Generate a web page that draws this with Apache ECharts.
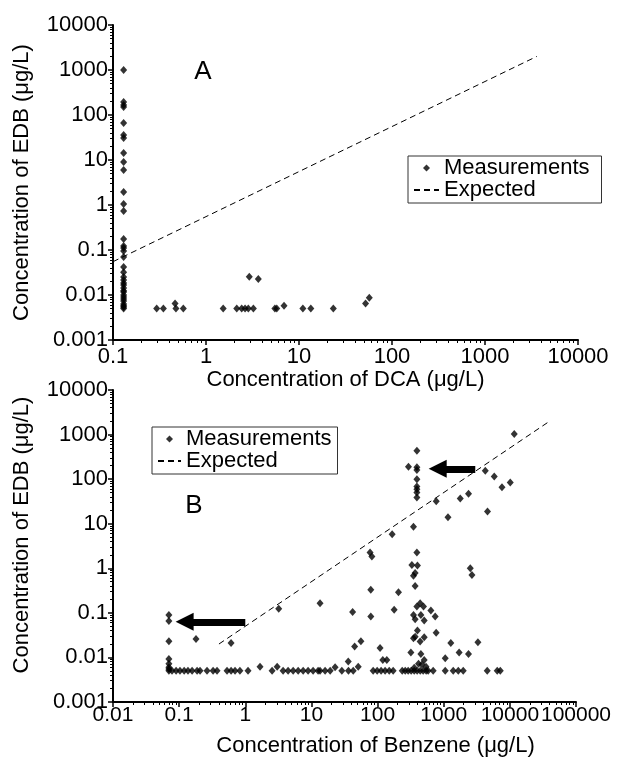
<!DOCTYPE html>
<html>
<head>
<meta charset="utf-8">
<script src="https://cdn.jsdelivr.net/npm/echarts@6/dist/echarts.min.js"></script>
<style>
  html, body { margin: 0; padding: 0; background: #fff; }
  #chart { width: 630px; height: 761px; }
</style>
</head>
<body>
<div id="chart"></div>
<script>
const FONT = '"Liberation Sans", Arial, sans-serif';

// ---- panel A: EDB vs DCA (µg/L)
const dcaA = [
  0.13, 0.13, 0.13, 0.13, 0.13, 0.13, 0.13, 0.13, 0.13, 0.13, 0.13, 0.13,
  0.13, 0.13, 0.13, 0.13, 0.13, 0.13, 0.13, 0.13, 0.13, 0.13, 0.13, 0.13,
  0.13, 0.13, 0.13, 0.13, 0.13, 0.13, 0.13, 0.13, 0.13, 0.13, 0.13,
  0.295, 0.348, 0.465, 0.475, 0.57, 1.53, 2.14, 2.42, 2.63, 2.85, 3.23,
  5.5, 5.76, 6.9, 11, 13.4, 23.4, 52, 57, 2.92, 3.65
];
const edbA = [
  1000, 194, 167, 151, 66, 36, 31, 14.3, 9.0, 6.0, 1.95, 1.05,
  0.74, 0.175, 0.123, 0.111, 0.095, 0.070, 0.042, 0.032, 0.025, 0.0216, 0.0185, 0.0167,
  0.0143, 0.0125, 0.0117, 0.010, 0.009, 0.0082, 0.0074, 0.0063, 0.0058, 0.0054, 0.005,
  0.005, 0.005, 0.0065, 0.005, 0.005, 0.005, 0.005, 0.005, 0.005, 0.005, 0.005,
  0.005, 0.005, 0.0058, 0.005, 0.005, 0.005, 0.0065, 0.0087, 0.0255, 0.0227
];
const expectedA = [[0.1, 0.055], [3600, 2000]];

// ---- panel B: EDB vs benzene (µg/L)
const benzeneB = [
  // detection-limit column
  0.07, 0.07, 0.07, 0.07, 0.07, 0.07, 0.07, 0.07,
  0.18, 0.61, 3.2, 13.5, 42, 79, 79, 56, 45, 109, 120, 138, 36,
  // low cluster
  207, 178, 440, 393, 495, 349, 452, 370, 507, 640, 743, 401, 370, 349, 507, 440,
  768, 1280, 3290, 319, 452, 1710, 2370, 507, 1054, 416, 468, 358, 540,
  // upper points
  11660, 393, 293, 393, 393, 4250, 5810, 7600, 10140, 393, 393, 393, 393, 393,
  771, 1780, 2370, 1160, 4590, 349, 166, 77, 82, 393, 330, 401, 370, 349, 2520, 2670, 370,
  // slightly above the floor
  1.67, 3.03, 22.8, 51,
  // floor at 0.005
  0.078, 0.09, 0.103, 0.119, 0.136, 0.157, 0.187, 0.207, 0.264, 0.326, 0.374, 0.53,
  0.61, 0.70, 0.83, 1.10, 2.54, 3.73, 4.44, 5.29, 6.3, 7.5, 8.9, 10.6, 12.6, 13.5,
  16.1, 19.2, 28.8, 36.3, 42.8, 85.7, 98.6, 113, 130, 150, 172, 236, 262, 290, 322,
  358, 397, 441, 489, 543, 582, 693, 1054, 1393, 1659, 1974, 4550, 6440, 7160
];
const edbB = [
  0.09, 0.066, 0.023, 0.0092, 0.0072, 0.006, 0.0055, 0.005,
  0.026, 0.021, 0.123, 0.165, 0.104, 0.083, 0.33, 0.023, 0.0176, 0.0162, 0.0088, 0.0088, 0.0081,
  0.29, 0.117, 0.165, 0.138, 0.138, 0.09, 0.09, 0.072, 0.067, 0.113, 0.083, 0.04, 0.029, 0.027, 0.0285, 0.0227,
  0.036, 0.021, 0.022, 0.0129, 0.012, 0.0129, 0.012, 0.0088, 0.0096, 0.0072, 0.0069, 0.0059, 0.0062,
  1030, 435, 190, 185, 161, 155, 114, 66, 84, 100, 68, 59, 50, 38.5,
  32, 37, 47, 14, 18.7, 8.6, 5.8, 2.25, 1.83, 2.25, 1.19, 1.15, 0.78, 0.68, 1.0, 0.71, 0.40,
  0.0062, 0.0062, 0.006, 0.0062,
  0.005, 0.005, 0.005, 0.005, 0.005, 0.005, 0.005, 0.005, 0.005, 0.005, 0.005, 0.005,
  0.005, 0.005, 0.005, 0.005, 0.005, 0.005, 0.005, 0.005, 0.005, 0.005, 0.005, 0.005, 0.005, 0.005,
  0.005, 0.005, 0.005, 0.005, 0.005, 0.005, 0.005, 0.005, 0.005, 0.005, 0.005, 0.005, 0.005, 0.005, 0.005,
  0.005, 0.005, 0.005, 0.005, 0.005, 0.005, 0.005, 0.005, 0.005, 0.005, 0.005, 0.005, 0.005, 0.005
];
const expectedB = [[0.4, 0.02], [38000, 1900]];
// arrows: [tail, head]
const arrowsB = [
  [[1, 0.063], [0.121, 0.063]],
  [[3000, 170], [811, 170]]
];

const yTicks = ['0.001', '0.01', '0.1', '1', '10', '100', '1000', '10000'];
const xTicksA = ['0.1', '1', '10', '100', '1000', '10000'];
const xTicksB = ['0.01', '0.1', '1', '10', '100', '1000', '10000', '100000'];

const zip = (xs, ys) => xs.map((x, i) => [x, ys[i]]);
const fromTicks = (ticks) => (v) => {
  const base = Math.round(Math.log10(parseFloat(ticks[0])));
  return ticks[Math.round(Math.log10(v)) - base] || '';
};
const labelStyle = (ticks, margin, size) => ({
  color: '#000', fontSize: size || 22, fontFamily: FONT, margin,
  showMinLabel: true, showMaxLabel: true, hideOverlap: false,
  formatter: fromTicks(ticks)
});

function logAxis(gridIndex, ticks, extra) {
  return Object.assign({
    type: 'log',
    logBase: 10,
    gridIndex,
    min: parseFloat(ticks[0]),
    max: parseFloat(ticks[ticks.length - 1]),
    splitNumber: ticks.length - 1,
    axisLine: { lineStyle: { color: '#000', width: 2 } },
    axisTick: { show: true, inside: false, length: 5, lineStyle: { color: '#000', width: 1.5 } },
    minorTick: { show: true, splitNumber: 9, length: 3, lineStyle: { color: '#000', width: 1 } },
    splitLine: { show: false },
    minorSplitLine: { show: false },
    nameLocation: 'middle',
    nameTextStyle: { color: '#000', fontSize: 22, fontFamily: FONT }
  }, extra);
}

function legendAt(left, top, padRight, itemWidth) {
  return {
    orient: 'vertical',
    left, top,
    itemGap: 0,
    itemWidth,
    itemHeight: 7,
    padding: [1, padRight, 2, 5],
    borderColor: '#333',
    borderWidth: 1,
    selectedMode: false,
    textStyle: { color: '#000', fontSize: 22, fontFamily: FONT, lineHeight: 20 },
    data: [
      { name: 'Measurements', icon: 'path://M5,0L10,5L5,10L0,5Z' },
      { name: 'Expected', itemStyle: { color: 'rgba(0,0,0,0)', borderColor: 'rgba(0,0,0,0)', borderWidth: 0 } }
    ]
  };
}

const measureStyle = { type: 'scatter', symbol: 'diamond', symbolSize: [7, 8], itemStyle: { color: '#000' } };
const expectStyle = {
  type: 'line', symbol: 'none', silent: true,
  lineStyle: { color: '#000', width: 1, type: [6, 4] }
};

const chart = echarts.init(document.getElementById('chart'), null, { renderer: 'canvas' });
chart.setOption({
  animation: false,
  backgroundColor: '#fff',
  grid: [
    { left: 113, top: 25, width: 465, height: 315 },
    { left: 113, top: 390, width: 463, height: 312 }
  ],
  xAxis: [
    logAxis(0, xTicksA, { name: 'Concentration of DCA (μg/L)', nameGap: 24, axisLabel: labelStyle(xTicksA, 6) }),
    logAxis(1, xTicksB, {
      name: 'Concentration of Benzene (μg/L)', nameGap: 33,
      nameTextStyle: { color: '#000', fontSize: 22, fontFamily: FONT, padding: [0, 0, 0, 62] },
      axisLabel: labelStyle(xTicksB, 3, 21)
    })
  ],
  yAxis: [
    logAxis(0, yTicks, { name: 'Concentration of EDB (μg/L)', nameGap: 80, axisLabel: labelStyle(yTicks, 5) }),
    logAxis(1, yTicks, {
      name: 'Concentration of EDB (μg/L)', nameGap: 80,
      nameTextStyle: { color: '#000', fontSize: 22, fontFamily: FONT, padding: [0, 0, 0, 22] },
      axisLabel: labelStyle(yTicks, 5)
    })
  ],
  legend: [legendAt(408, 156, 12, 25), legendAt(152, 427, 6, 23)],
  graphic: [
    { type: 'text', x: 203, y: 72, style: { text: 'A', font: '26px ' + FONT, fill: '#000', align: 'center', verticalAlign: 'middle' } },
    { type: 'text', x: 194, y: 506, style: { text: 'B', font: '26px ' + FONT, fill: '#000', align: 'center', verticalAlign: 'middle' } }
  ],
  series: [
    Object.assign({ name: 'Measurements', xAxisIndex: 0, yAxisIndex: 0, data: zip(dcaA, edbA) }, measureStyle),
    Object.assign({ name: 'Expected', xAxisIndex: 0, yAxisIndex: 0, data: expectedA }, expectStyle),
    Object.assign({ name: 'Measurements', xAxisIndex: 1, yAxisIndex: 1, data: zip(benzeneB, edbB) }, measureStyle),
    Object.assign({
      name: 'Expected', xAxisIndex: 1, yAxisIndex: 1, data: expectedB,
      markLine: {
        silent: true,
        symbol: ['none', 'triangle'],
        symbolSize: 18,
        label: { show: false },
        lineStyle: { color: '#000', width: 7, type: 'solid' },
        data: arrowsB.map(a => [{ coord: a[0] }, { coord: a[1] }])
      }
    }, expectStyle)
  ]
});
</script>
</body>
</html>
